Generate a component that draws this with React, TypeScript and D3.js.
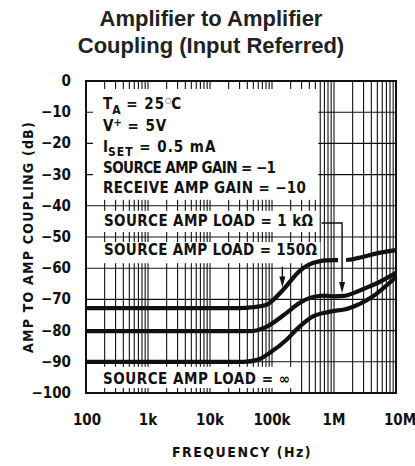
import React from "react";
import * as d3 from "d3";

const xTickValues = [100, 1e3, 1e4, 1e5, 1e6, 1e7];
const xTickLabels = ["100", "1k", "10k", "100k", "1M", "10M"];
const yTickValues = [0, -10, -20, -30, -40, -50, -60, -70, -80, -90, -100];

// Source amp load = 150 ohm
const freq150 = [100, 30e3, 50e3, 80e3, 150e3, 275e3, 400e3, 575e3, 750e3, 1.2e6, 1.75e6, 2.5e6, 5.3e6, 10e6];
const db150 = [-72.8, -72.8, -72.5, -71.8, -67, -61, -58.8, -57.8, -57.5, -57.4, -57.3, -56.7, -55.1, -54.2];
// Source amp load = 1k ohm
const freq1k = [100, 44e3, 81e3, 170e3, 275e3, 445e3, 700e3, 1e6, 1.4e6, 2.5e6, 3.3e6, 5.3e6, 10e6];
const db1k = [-80.2, -80.2, -78.8, -74.4, -71.2, -69.3, -68.8, -69.0, -68.9, -67.3, -66.3, -64.5, -61.5];
// Source amp load = infinity
const freqInf = [100, 35e3, 60e3, 91e3, 170e3, 275e3, 445e3, 830e3, 1.75e6, 4.1e6, 10e6];
const dbInf = [-90, -90, -89.3, -87.2, -83, -78.8, -75.6, -74, -72.8, -69.2, -62.8];

const arrow150Freq = 147e3;
const arrow1kFreq = 1.35e6;

const W = 415;
const H = 466;
const X0 = 86, X1 = 396, Y0 = 81, Y1 = 393;
const NARROW = "'DejaVu Sans Condensed', 'DejaVu Sans', sans-serif";
const INK = "#111";

export default function App() {
  const x = d3.scaleLog().domain([100, 1e7]).range([X0, X1]);
  const y = d3.scaleLinear().domain([-100, 0]).range([Y1, Y0]);

  const gridX: number[] = [];
  for (let d = 100; d < 1e7; d *= 10) for (let k = 1; k <= 9; k++) gridX.push(d * k);
  const gridY = d3.range(-90, 0, 10);

  const line = d3
    .line<[number, number]>()
    .x((p) => x(p[0]))
    .y((p) => y(p[1]))
    .curve(d3.curveMonotoneX);

  const series = [
    { f: freq150, v: db150 },
    { f: freq1k, v: db1k },
    { f: freqInf, v: dbInf },
  ];

  const interp = (f: number[], v: number[], q: number) => {
    const lf = f.map(Math.log10);
    const lq = Math.log10(q);
    for (let i = 1; i < lf.length; i++) {
      if (lq <= lf[i]) {
        const t = (lq - lf[i - 1]) / (lf[i] - lf[i - 1]);
        return v[i - 1] + t * (v[i] - v[i - 1]);
      }
    }
    return v[v.length - 1];
  };

  const a150x = x(arrow150Freq);
  const a150tip = y(interp(freq150, db150, arrow150Freq)) - 3;
  const a1kx = x(arrow1kFreq);
  const a1ktip = y(interp(freq1k, db1k, arrow1kFreq)) - 3;
  const top150AtA1k = y(interp(freq150, db150, arrow1kFreq));

  const txt = { fontFamily: NARROW, fontWeight: 700, fill: INK, fontStretch: "condensed" } as const;

  return (
    <svg width={W} height={H} style={{ display: "block", position: "absolute", left: 0, top: 0, background: "#fff" }}>
      <rect width={W} height={H} fill="#fff" />

      {/* title */}
      <text x={211} y={26} textAnchor="middle" fontFamily="'Liberation Sans', Arial, sans-serif" fontWeight={700} fontSize={22} fill="#222">
        Amplifier to Amplifier
      </text>
      <text x={211} y={53} textAnchor="middle" fontFamily="'Liberation Sans', Arial, sans-serif" fontWeight={700} fontSize={22} fill="#222">
        Coupling (Input Referred)
      </text>

      {/* grid */}
      <g stroke={INK} strokeWidth={1.1}>
        {gridX.map((f, i) => (
          <line key={"gx" + i} x1={x(f)} x2={x(f)} y1={Y0} y2={Y1} />
        ))}
        {gridY.map((v) => (
          <line key={"gy" + v} x1={X0} x2={X1} y1={y(v)} y2={y(v)} />
        ))}
      </g>

      {/* white label boxes */}
      <g fill="#fff">
        <rect x={X0 + 7} y={y(0) + 8} width={x(6e5) - X0 - 9} height={y(-40) - y(0) - 14} />
        <rect x={X0 + 7} y={y(-40) + 5} width={x(6e5) - X0 - 9} height={y(-50) - y(-40) - 10} />
        <rect x={X0 + 7} y={y(-50) + 5} width={x(6.5e5) - X0 - 9} height={y(-60) - y(-50) - 10} />
        <rect x={X0 + 1} y={y(-90) + 5} width={x(2.2e5) - X0 - 1} height={y(-100) - y(-90) - 10} />
      </g>

      {/* frame */}
      <rect x={X0} y={Y0} width={X1 - X0} height={Y1 - Y0} fill="none" stroke={INK} strokeWidth={2} />

      {/* curves */}
      {series.map((s, i) => (
        <path
          key={"c" + i}
          d={line(s.f.map((f, j) => [f, s.v[j]] as [number, number])) || ""}
          fill="none"
          stroke={INK}
          strokeWidth={4.2}
        />
      ))}

      {/* gap in 150 curve where 1k arrow passes */}
      <rect x={a1kx - 4} y={top150AtA1k - 4} width={8} height={8} fill="#fff" />

      {/* arrows */}
      <g stroke={INK} strokeWidth={1.4} fill="none">
        <line x1={a150x} y1={y(-59.5)} x2={a150x} y2={a150tip - 10} />
        <polyline points={`${x(6.3e5)},${y(-45.5)} ${a1kx},${y(-45.5)} ${a1kx},${a1ktip - 10}`} />
      </g>
      <g fill={INK}>
        <path d={`M${a150x - 3},${a150tip - 11} L${a150x + 3},${a150tip - 11} L${a150x},${a150tip} Z`} />
        <path d={`M${a1kx - 3},${a1ktip - 11} L${a1kx + 3},${a1ktip - 11} L${a1kx},${a1ktip} Z`} />
      </g>

      {/* in-plot text */}
      <g {...txt} fontSize={15}>
        <text x={103} y={109}>
          T<tspan fontSize={12} dy={5}>A</tspan>
          <tspan dy={-5} letterSpacing={1}> = 25</tspan>
          <tspan fontSize={8} dy={-6}>○</tspan>
          <tspan dy={6}>C</tspan>
        </text>
        <text x={103} y={131}>
          V<tspan fontSize={11} dy={-5}>+</tspan>
          <tspan dy={5} letterSpacing={1}> = 5V</tspan>
        </text>
        <text x={103} y={152}>
          I<tspan fontSize={12} dy={4} letterSpacing={1}>SET</tspan>
          <tspan dy={-4} letterSpacing={1}> = 0.5 mA</tspan>
        </text>
        <text x={103} y={173} textLength={173} lengthAdjust="spacing">SOURCE AMP GAIN = −1</text>
        <text x={103} y={193} textLength={203} lengthAdjust="spacing">RECEIVE AMP GAIN = −10</text>
        <text x={104} y={226} textLength={209} lengthAdjust="spacing">SOURCE AMP LOAD = 1 kΩ</text>
        <text x={104} y={255} textLength={213} lengthAdjust="spacing">SOURCE AMP LOAD = 150Ω</text>
        <text x={103} y={384} textLength={187} lengthAdjust="spacing">SOURCE AMP LOAD = ∞</text>
      </g>

      {/* y ticks */}
      <g {...txt} fontSize={15}>
        {yTickValues.map((v) => (
          <text key={"yt" + v} x={71} y={y(v) + 5} textAnchor="end">
            {v === 0 ? "0" : "−" + Math.abs(v)}
          </text>
        ))}
      </g>

      {/* x ticks */}
      <g {...txt} fontSize={15}>
        {xTickValues.map((f, i) => (
          <text key={"xt" + i} x={x(f) + (i === 0 ? 1 : i === 5 ? 4 : 0)} y={425} textAnchor="middle">
            {xTickLabels[i]}
          </text>
        ))}
      </g>

      {/* axis titles */}
      <text {...txt} fontSize={14} x={242} y={457} textAnchor="middle" letterSpacing={1.5}>
        FREQUENCY (Hz)
      </text>
      <text {...txt} fontSize={14} transform={`translate(33,${(Y0 + Y1) / 2}) rotate(-90)`} textAnchor="middle" letterSpacing={1.2}>
        AMP TO AMP COUPLING (dB)
      </text>
    </svg>
  );
}
